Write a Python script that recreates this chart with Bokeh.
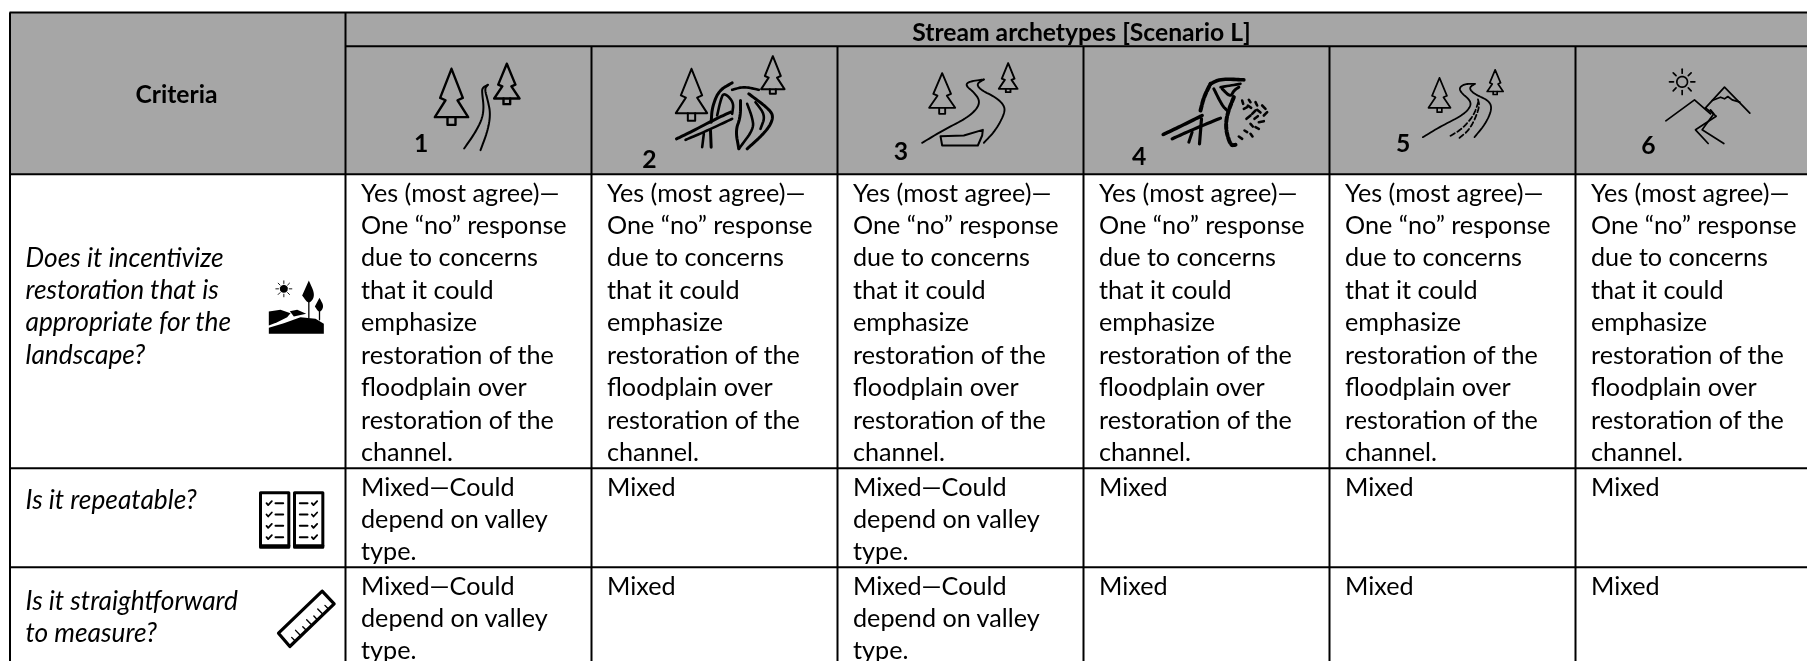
import math
from bokeh.plotting import figure
from bokeh.models import Range1d
from bokeh.core.properties import value
from bokeh.embed import file_html
from bokeh.resources import INLINE

# ---------- table content ----------
title = "Stream archetypes [Scenario L]"
criteria_head = "Criteria"
archetypes = ["1", "2", "3", "4", "5", "6"]
criteria = [
    ["Does it incentivize", "restoration that is", "appropriate for the", "landscape?"],
    ["Is it repeatable?"],
    ["Is it straightforward", "to measure?"],
]
yes_text = ["Yes (most agree)\u2014", "One \u201cno\u201d response", "due to concerns", "that it could",
            "emphasize", "restoration of the", "floodplain over", "restoration of the", "channel."]
mixed_long = ["Mixed\u2014Could", "depend on valley", "type."]
mixed = ["Mixed"]
row1 = [yes_text] * 6
row2 = [mixed_long, mixed, mixed_long, mixed, mixed, mixed]
row3 = [mixed_long, mixed, mixed_long, mixed, mixed, mixed]

# ---------- layout (pixels of the page) ----------
W, H = 1807, 661
col_x = [345, 591, 837, 1083, 1329, 1575]
GRAY, INK = "#A6A6A6", "#000000"
FS = "25.2px"
FS_ITALIC = "26.3px"
FS_BOLD = "24.7px"
LEAD = 32.45

p = figure(width=W, height=H, x_range=Range1d(0, W), y_range=Range1d(H, 0),
           output_backend="svg", toolbar_location=None, min_border=0,
           outline_line_color=None, background_fill_color="white", border_fill_color="white")
p.axis.visible = False
p.grid.visible = False
p.styles = {"position": "fixed", "left": "0px", "top": "0px"}

# header fill
p.quad(left=[9], right=[W], top=[12], bottom=[174], fill_color=GRAY, line_color=None)

# grid rules
hl = [([9, W], [12, 12]), ([345, W], [45.7, 45.7]), ([9, W], [173.7, 173.7]),
      ([9, W], [467.7, 467.7]), ([9, W], [566.7, 566.7])]
vl = [([9.5, 9.5], [12, H]), ([345, 345], [12, H])]
vl += [([x, x], [45.7, H]) for x in col_x[1:]]
p.multi_line([a for a, b in hl + vl], [b for a, b in hl + vl], line_color=INK, line_width=2)


def put(lines, x, y0, style="normal", align="left", size=FS, lead=LEAD):
    p.text(x=[x] * len(lines), y=[y0 + i * lead for i in range(len(lines))], text=lines,
           text_font=value("Lato"), text_font_size=value(size), text_font_style=style,
           text_align=align, text_baseline="alphabetic", text_color=INK)


put([criteria_head], 176, 93, "bold", "center", FS_BOLD)
put([title], 1081, 31, "bold", "center", FS_BOLD)

num_pos = [(420.7, 142), (649, 158), (900.5, 150), (1138.7, 155), (1402.7, 142), (1648, 144)]
for n, (nx, ny) in zip(archetypes, num_pos):
    put([n], nx, ny, "bold", "center", FS_BOLD)

put(criteria[0], 25, 256, "italic", size=FS_ITALIC)
put(criteria[1], 25, 498, "italic", size=FS_ITALIC)
put(criteria[2], 25, 599, "italic", size=FS_ITALIC)

for rows, y0 in ((row1, 191), (row2, 485), (row3, 584)):
    for x, cell in zip(col_x, rows):
        put(cell, x + 15.5, y0)


# ---------- pictograms (traced at 3x from a local origin) ----------
def smooth(pts, n=3):
    for _ in range(n):
        out = [pts[0]]
        for a, b in zip(pts, pts[1:]):
            out.append((0.75 * a[0] + 0.25 * b[0], 0.75 * a[1] + 0.25 * b[1]))
            out.append((0.25 * a[0] + 0.75 * b[0], 0.25 * a[1] + 0.75 * b[1]))
        out.append(pts[-1])
        pts = out
    return pts


def stroke(o, pts, lw=2.0, curved=False, dash="solid", color=INK):
    if curved:
        pts = smooth(pts)
    p.line([o[0] + a / 3 for a, b in pts], [o[1] + b / 3 for a, b in pts], line_color=color,
           line_width=lw, line_join="round", line_cap="round", line_dash=dash)


def fill(o, pts, curved=False, color=INK):
    if curved:
        pts = smooth(pts)
    p.patch([o[0] + a / 3 for a, b in pts], [o[1] + b / 3 for a, b in pts], fill_color=color, line_color=None)


def tree(o, cx, top, base, hw, foot, tw, lw=2.4):
    h = base - top
    pts = [(cx, top), (cx + hw * .68, top + h * .6), (cx + hw * .36, top + h * .65), (cx + hw, base),
           (cx - hw, base), (cx - hw * .36, top + h * .65), (cx - hw * .68, top + h * .6), (cx, top)]
    stroke(o, pts, lw)
    stroke(o, [(cx - tw, base), (cx - tw, foot), (cx + tw, foot), (cx + tw, base)], lw)


# 1
o = (400, 50)
tree(o, 153, 55, 200, 50, 223, 12)
tree(o, 319, 40, 144, 38, 161, 10)
stroke(o, [(191, 294), (225, 245), (245, 205), (250, 170), (245, 130), (245, 112), (262, 103)], 2.0, True)
stroke(o, [(262, 103), (252, 115), (262, 150), (270, 190), (262, 240), (240, 299)], 2.0, True)

# 2
o = (640, 50)
tree(o, 153, 55, 188, 47, 211, 11, 2.0)
tree(o, 397, 17, 116, 35, 130, 9, 2.0)
for seg, lw in [
    ([(108, 265), (150, 245), (220, 208), (270, 185)], 3),
    ([(135, 268), (190, 245), (275, 205)], 2.6),
    ([(190, 250), (185, 290)], 2.6),
    ([(210, 240), (212, 290)], 3),
    ([(212, 215), (215, 170), (235, 120), (275, 97)], 3),
    ([(230, 195), (240, 150), (250, 125), (280, 155), (275, 190)], 2.6),
    ([(275, 118), (310, 108), (355, 118)], 2.6),
    ([(325, 130), (385, 175), (400, 200), (380, 240), (320, 295)], 3),
    ([(345, 155), (375, 195), (360, 235)], 2.6),
    ([(300, 150), (300, 200), (285, 240), (295, 295)], 3),
    ([(320, 160), (335, 200), (340, 235), (295, 295)], 2.6),
]:
    stroke(o, seg, lw, True)

# 3
o = (900, 50)
tree(o, 125, 68, 172, 39, 190, 9, 1.9)
tree(o, 323, 38, 115, 28, 125, 7, 1.9)
stroke(o, [(65, 277), (130, 238), (195, 205), (230, 175), (238, 150), (220, 125), (195, 105), (205, 93), (250, 87)], 1.9, True)
stroke(o, [(250, 87), (228, 100), (240, 118), (285, 140), (312, 165), (312, 190), (285, 240), (250, 277)], 1.9, True)
stroke(o, [(120, 257), (190, 255), (247, 238), (245, 255), (232, 285), (125, 285), (120, 257)], 2.0)

# 4
o = (1120, 50)
for seg, lw, dash in [
    ([(128, 252), (185, 225), (245, 195)], 3.5, "solid"),
    ([(155, 265), (210, 240), (300, 203)], 3.2, "solid"),
    ([(215, 245), (205, 275)], 3, "solid"),
    ([(243, 205), (237, 280)], 3.2, "solid"),
    ([(240, 180), (250, 140), (270, 100)], 4, "5 2"),
    ([(270, 100), (300, 85), (370, 88)], 3.6, "solid"),
    ([(280, 115), (305, 165), (320, 180)], 3, "solid"),
    ([(300, 110), (360, 100)], 2.6, "solid"),
    ([(305, 115), (330, 140), (340, 120), (355, 110)], 3, "solid"),
    ([(340, 140), (320, 190), (315, 235), (330, 285), (345, 283)], 4, "5 2"),
]:
    stroke(o, seg, lw, True, dash)
for seg in [
    [(365, 150), (368, 160)], [(385, 148), (390, 155)], [(405, 155), (410, 165)], [(425, 165), (435, 175)],
    [(370, 175), (380, 170)], [(395, 190), (405, 180)], [(430, 195), (440, 185)], [(378, 205), (390, 195)],
    [(415, 215), (430, 212)], [(390, 220), (397, 228)], [(405, 230), (415, 235)], [(372, 240), (380, 245)],
    [(355, 258), (365, 265)], [(390, 250), (396, 258)], [(382, 165), (392, 172)], [(410, 178), (420, 186)],
    [(402, 205), (412, 197)],
]:
    stroke(o, seg, 2.6)

# 5
o = (1390, 50)
tree(o, 147, 82, 172, 33, 185, 7, 1.7)
tree(o, 314, 58, 123, 24, 132, 6, 1.7)
stroke(o, [(97, 260), (150, 228), (215, 195), (240, 170), (240, 150), (210, 125), (207, 110), (225, 100), (253, 100)], 1.8, True)
stroke(o, [(253, 100), (235, 112), (250, 130), (295, 150), (305, 175), (285, 220), (252, 260)], 1.8, True)
stroke(o, [(180, 256), (215, 235), (250, 195), (265, 150)], 1.8, True, "5 3")
stroke(o, [(207, 262), (240, 235), (268, 170), (262, 145)], 1.8, True, "5 3")

# 6
o = (1650, 50)
sun = [(95 + 16 * math.cos(a / 12 * math.pi), 94 + 16 * math.sin(a / 12 * math.pi)) for a in range(25)]
stroke(o, sun, 1.7)
for k in range(8):
    a = k * math.pi / 4
    stroke(o, [(95 + 26 * math.cos(a), 94 + 26 * math.sin(a)), (95 + 38 * math.cos(a), 94 + 38 * math.sin(a))], 1.7)
stroke(o, [(46, 211), (132, 148), (180, 190)], 1.7)
stroke(o, [(165, 172), (222, 110), (298, 188)], 1.7)
stroke(o, [(185, 150), (210, 140), (222, 145), (232, 138), (245, 148), (268, 155)], 1.7)
stroke(o, [(165, 172), (197, 197), (135, 238), (173, 279)], 1.7)
stroke(o, [(180, 178), (190, 190), (155, 238), (220, 279)], 1.7)

# landscape
o = (0, 170)
fill(o, [(805, 490), (805, 472), (850, 458), (900, 440), (945, 445), (970, 460), (970, 490)])
fill(o, [(805, 423), (840, 418), (870, 428), (860, 440), (830, 455), (805, 465)])
fill(o, [(868, 422), (890, 418), (917, 430), (880, 438)])
fill(o, [(925, 330), (945, 375), (925, 402), (905, 375)], True)
fill(o, [(957, 382), (971, 408), (957, 428), (943, 408)], True)
stroke(o, [(925, 395), (925, 442)], 1.3)
stroke(o, [(957, 420), (957, 448)], 1.3)
sun_f = [(850 + 12 * math.cos(a / 8 * math.pi), 355 + 12 * math.sin(a / 8 * math.pi)) for a in range(17)]
fill(o, sun_f)
for k in range(8):
    a = k * math.pi / 4
    stroke(o, [(850 + 16 * math.cos(a), 355 + 16 * math.sin(a)), (850 + 24 * math.cos(a), 355 + 24 * math.sin(a))], 0.9)

# checklists
o = (0, 450)
for x0 in (780, 882):
    stroke(o, [(x0, 127), (x0 + 85, 127), (x0 + 85, 290), (x0, 290), (x0, 127)], 3)
    stroke(o, [(x0, 286), (x0 + 85, 286)], 3)
for y in (158, 192, 226, 260):
    for cx, dx in ((798, 825), (934, 898)):
        stroke(o, [(cx, y), (cx + 5, y + 6), (cx + 16, y - 6)], 1.8)
        stroke(o, [(dx, y), (dx + 23, y)], 2.0)

# ruler
o = (0, 450)
a, b, c, d = (965, 422), (1001, 460), (868, 588), (834, 548)
stroke(o, [a, b, c, d, a], 3.2)
for i in range(1, 8):
    t = i / 8
    x = c[0] + (b[0] - c[0]) * t
    y = c[1] + (b[1] - c[1]) * t
    L = 20 if i % 2 == 0 else 13
    stroke(o, [(x - 2, y - 2), (x - 2 - L * .7, y - 2 - L * .72)], 1.4)

open("out.html", "w").write(file_html(p, INLINE))
